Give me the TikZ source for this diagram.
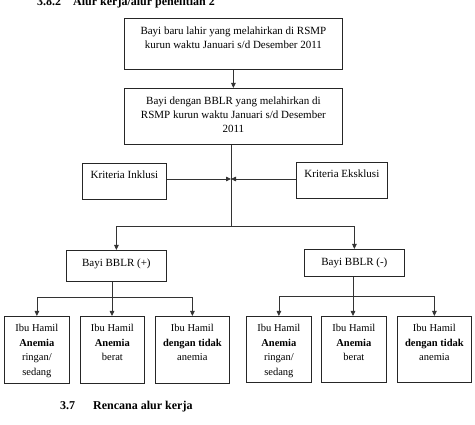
\documentclass[tikz,border=0pt]{standalone}
\usepackage{fontspec}
\setmainfont{Liberation Serif}
\usetikzlibrary{arrows.meta}

% box contents: width, height, top padding, text
\newcommand\boxtxt[4]{\parbox[c][#2][t]{#1}{\centering\vspace*{#3}\strut #4}}

\begin{document}
\begin{tikzpicture}[x=1pt,y=-1pt,
  box/.style={draw=black!85, line width=0.8pt, inner sep=0pt, anchor=north west,
    font=\fontsize{11}{14}\selectfont},
  smallbox/.style={box, font=\fontsize{10.5}{14.7}\selectfont},
  link/.style={draw=black!80, line width=0.8pt},
  arr/.style={link, -{Triangle[length=5pt,width=4.5pt]}},
  heading/.style={font=\fontsize{12}{14}\selectfont\bfseries, anchor=base west, inner sep=0pt}]
\useasboundingbox (0,0) rectangle (475,425);
\clip (0,0) rectangle (475,425);
\fill[white] (0,0) rectangle (475,425);

% headings
\node[heading] (h1num) at (37,6) {3.8.2};
\node[heading] (h1txt) at (73,6) {Alur kerja/alur penelitian 2};
\node[heading] (h2num) at (60,410) {3.7};
\node[heading] (h2txt) at (93,410) {Rencana alur kerja};

% population boxes
\node[box] (b1) at (124,18) {\boxtxt{218pt}{51pt}{6.2pt}{Bayi baru lahir yang melahirkan di RSMP\\kurun waktu Januari s/d Desember 2011}};
\node[box] (b2) at (124,88) {\boxtxt{218pt}{56pt}{6.2pt}{Bayi dengan BBLR yang melahirkan di\\RSMP kurun waktu Januari s/d Desember\\2011}};

% criteria
\node[box] (ki) at (82,163) {\boxtxt{84pt}{36pt}{5.2pt}{Kriteria Inklusi}};
\node[box] (ke) at (296,162) {\boxtxt{91pt}{36pt}{5.2pt}{Kriteria Eksklusi}};

% groups
\node[box] (bp) at (66,250) {\boxtxt{100pt}{31pt}{6.2pt}{Bayi BBLR (+)}};
\node[box] (bm) at (304,249) {\boxtxt{100pt}{27pt}{6.2pt}{Bayi BBLR (-)}};

% sub-groups of BBLR (+)
\node[smallbox] (pa) at (4,316) {\boxtxt{65pt}{67pt}{4.7pt}{Ibu Hamil\\\textbf{Anemia}\\ringan/\\sedang}};
\node[smallbox] (pb) at (80,316) {\boxtxt{64pt}{67pt}{4.7pt}{Ibu Hamil\\\textbf{Anemia}\\berat}};
\node[smallbox] (pc) at (155,316) {\boxtxt{74pt}{67pt}{4.7pt}{Ibu Hamil\\\textbf{dengan tidak}\\anemia}};

% sub-groups of BBLR (-)
\node[smallbox] (ma) at (246,316) {\boxtxt{65pt}{66pt}{4.7pt}{Ibu Hamil\\\textbf{Anemia}\\ringan/\\sedang}};
\node[smallbox] (mb) at (321,316) {\boxtxt{65pt}{66pt}{4.7pt}{Ibu Hamil\\\textbf{Anemia}\\berat}};
\node[smallbox] (mc) at (397,316) {\boxtxt{74pt}{66pt}{4.7pt}{Ibu Hamil\\\textbf{dengan tidak}\\anemia}};

% junction points
\coordinate (j) at (231,179);
\coordinate (k) at (231,226);
\coordinate (hp) at (112,297);
\coordinate (hm) at (353,296);

% connectors
\draw[arr] (b1.south) -- (b2.north);
\draw[link] (b2.south -| j) -- (k);
\draw[arr] (ki.east |- j) -- (j);
\draw[arr] (ke.west |- j) -- (j);
\draw[arr] (k) -| (bp.north);
\draw[arr] (k) -| (bm.north);

\draw[link] (bp.south -| hp) -- (hp);
\draw[arr] (hp) -| (pa.north);
\draw[arr] (hp) -- (pb.north -| hp);
\draw[arr] (hp) -| (pc.north);

\draw[link] (bm.south -| hm) -- (hm);
\draw[arr] (hm) -| (ma.north);
\draw[arr] (hm) -- (mb.north -| hm);
\draw[arr] (hm) -| (mc.north);
\end{tikzpicture}
\end{document}
